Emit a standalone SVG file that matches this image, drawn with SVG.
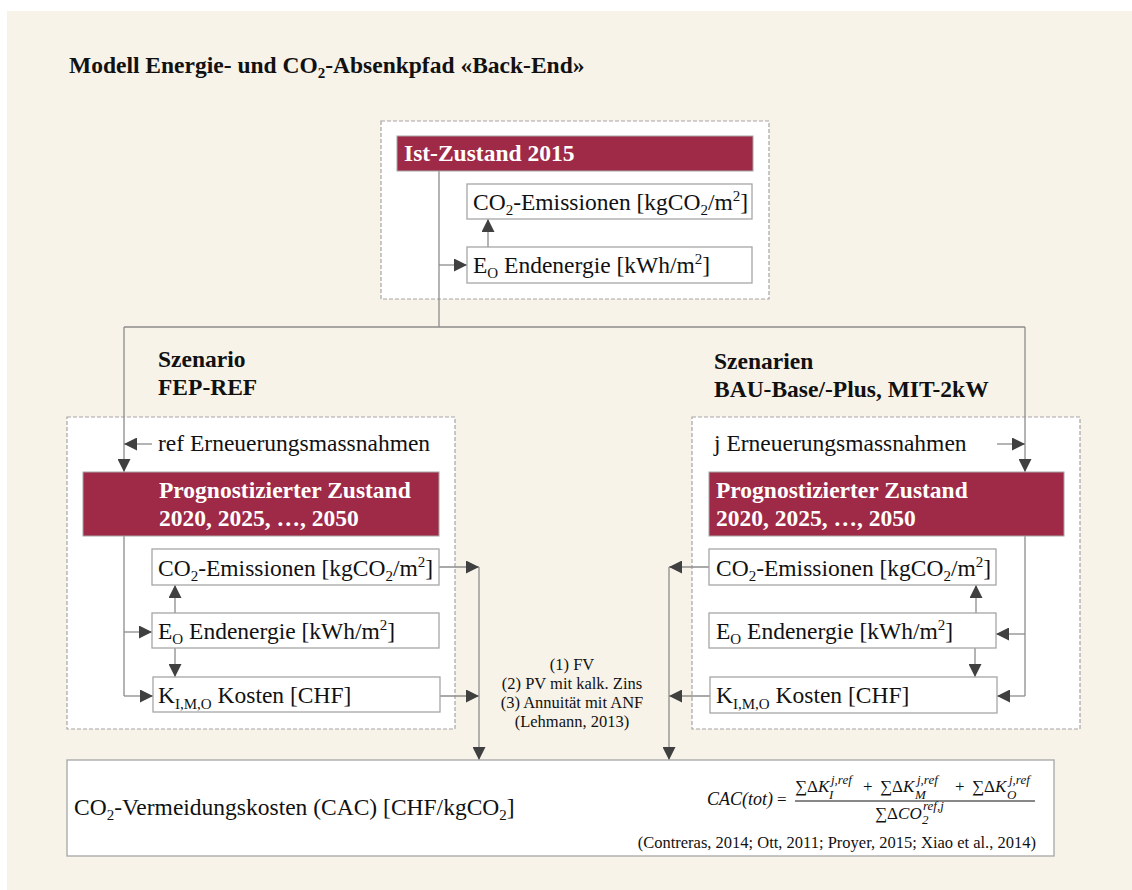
<svg xmlns="http://www.w3.org/2000/svg" width="1132" height="890" viewBox="0 0 1132 890">
<style>
text{font-family:"Liberation Serif","Times New Roman",serif;fill:#111}
.t{font-size:23.5px}
.b{font-size:23.5px;font-weight:bold}
.w{font-size:23.5px;font-weight:bold;fill:#fff}
.s{font-size:15px}
.m{font-size:16.5px}
.c{font-size:16.5px}
.f{font-size:18px;font-style:italic}
.fn{font-size:17px}
.fi{font-style:italic}
.fs{font-size:13px;font-style:italic}
.box{fill:#fff;stroke:#a6a6a6;stroke-width:1.3}
.dash{fill:#fff;stroke:#a6a6a6;stroke-width:1.2;stroke-dasharray:4 2}
.hdr{fill:#9e2a47;stroke:#a6a6a6;stroke-width:1}
.ln{fill:none;stroke:#8c8c8c;stroke-width:1.3}
.ar{fill:none;stroke:#8c8c8c;stroke-width:1.3;marker-end:url(#ah)}
</style>
<defs>
<marker id="ah" markerUnits="userSpaceOnUse" markerWidth="13" markerHeight="13" refX="13" refY="6.5" orient="auto">
<path d="M0,0 L13,6.5 L0,13 z" fill="#404040"/>
</marker>
</defs>
<rect x="0" y="0" width="1132" height="890" fill="#fff"/>
<rect x="7" y="11" width="1125" height="879" fill="#f8f3e8"/>
<text x="69" y="73" style="font-size:23.5px;font-weight:bold">Modell Energie- und CO<tspan style="font-size:15px" dy="5">2</tspan><tspan dy="-5">-Absenkpfad «Back-End»</tspan></text>

<g id="frame-top"><rect class="dash" x="381" y="121" width="388" height="178"/></g>
<g id="frame-left"><rect class="dash" x="67" y="417" width="388" height="312"/></g>
<g id="frame-right"><rect class="dash" x="692" y="417" width="388" height="312"/></g>

<g id="connectors">
<polyline class="ln" points="439,171 439,327"/>
<polyline class="ln" points="124,327 1025,327"/>
<line class="ar" x1="439" y1="265" x2="467" y2="265"/>
<line class="ar" x1="488" y1="247" x2="488" y2="219"/>
<line class="ar" x1="124" y1="327" x2="124" y2="472"/>
<line class="ar" x1="152" y1="444" x2="124" y2="444"/>
<polyline class="ln" points="124,536 124,696"/>
<line class="ar" x1="124" y1="632" x2="152" y2="632"/>
<line class="ar" x1="124" y1="696" x2="153" y2="696"/>
<line class="ar" x1="175" y1="613" x2="175" y2="585"/>
<line class="ar" x1="175" y1="648" x2="175" y2="677"/>
<line class="ar" x1="439" y1="567" x2="479" y2="567"/>
<line class="ar" x1="440" y1="696" x2="479" y2="696"/>
<line class="ar" x1="479" y1="567" x2="479" y2="760"/>
<line class="ar" x1="1025" y1="327" x2="1025" y2="472"/>
<line class="ar" x1="997" y1="444" x2="1025" y2="444"/>
<polyline class="ln" points="1025,536 1025,696"/>
<line class="ar" x1="1025" y1="634" x2="996" y2="634"/>
<line class="ar" x1="1025" y1="696" x2="997" y2="696"/>
<line class="ar" x1="976" y1="613" x2="976" y2="585"/>
<line class="ar" x1="975" y1="648" x2="975" y2="677"/>
<line class="ar" x1="709" y1="567" x2="669" y2="567"/>
<line class="ar" x1="710" y1="696" x2="669" y2="696"/>
<line class="ar" x1="669" y1="567" x2="669" y2="760"/>
</g>

<g id="ist-zustand">
<rect class="hdr" x="397" y="136" width="356" height="35"/>
<text class="w" x="404" y="161">Ist-Zustand 2015</text>
</g>
<g id="top-co2">
<rect class="box" x="467" y="184" width="285" height="35"/>
<text class="t" x="473" y="210">CO<tspan class="s" dy="5">2</tspan><tspan dy="-5">-Emissionen [kgCO</tspan><tspan class="s" dy="5">2</tspan><tspan dy="-5">/m</tspan><tspan class="s" dy="-9">2</tspan><tspan dy="9">]</tspan></text>
</g>
<g id="top-eo">
<rect class="box" x="467" y="247" width="285" height="36"/>
<text class="t" x="473" y="273">E<tspan class="s" dy="5">O</tspan><tspan dy="-5"> Endenergie [kWh/m</tspan><tspan class="s" dy="-9">2</tspan><tspan dy="9">]</tspan></text>
</g>

<g id="label-left">
<text class="b" x="158" y="367">Szenario</text>
<text class="b" x="158" y="395">FEP-REF</text>
</g>
<g id="label-right">
<text class="b" x="714" y="369">Szenarien</text>
<text class="b" x="714" y="397">BAU-Base/-Plus, MIT-2kW</text>
</g>

<g id="left-massnahmen"><text class="t" x="158" y="451">ref Erneuerungsmassnahmen</text></g>
<g id="left-prog">
<rect class="hdr" x="83" y="472" width="356" height="64"/>
<text class="w" x="159" y="498">Prognostizierter Zustand</text>
<text class="w" x="159" y="526">2020, 2025, …, 2050</text>
</g>
<g id="left-co2">
<rect class="box" x="152" y="549" width="287" height="36"/>
<text class="t" x="158" y="576">CO<tspan class="s" dy="5">2</tspan><tspan dy="-5">-Emissionen [kgCO</tspan><tspan class="s" dy="5">2</tspan><tspan dy="-5">/m</tspan><tspan class="s" dy="-9">2</tspan><tspan dy="9">]</tspan></text>
</g>
<g id="left-eo">
<rect class="box" x="152" y="613" width="287" height="35"/>
<text class="t" x="158" y="639">E<tspan class="s" dy="5">O</tspan><tspan dy="-5"> Endenergie [kWh/m</tspan><tspan class="s" dy="-9">2</tspan><tspan dy="9">]</tspan></text>
</g>
<g id="left-k">
<rect class="box" x="153" y="677" width="287" height="35"/>
<text class="t" x="158" y="703">K<tspan class="s" dy="6">I,M,O</tspan><tspan dy="-6"> Kosten [CHF]</tspan></text>
</g>

<g id="right-massnahmen"><text class="t" x="714" y="451">j Erneuerungsmassnahmen</text></g>
<g id="right-prog">
<rect class="hdr" x="709" y="472" width="355" height="64"/>
<text class="w" x="716" y="498">Prognostizierter Zustand</text>
<text class="w" x="716" y="526">2020, 2025, …, 2050</text>
</g>
<g id="right-co2">
<rect class="box" x="709" y="549" width="287" height="36"/>
<text class="t" x="716" y="576">CO<tspan class="s" dy="5">2</tspan><tspan dy="-5">-Emissionen [kgCO</tspan><tspan class="s" dy="5">2</tspan><tspan dy="-5">/m</tspan><tspan class="s" dy="-9">2</tspan><tspan dy="9">]</tspan></text>
</g>
<g id="right-eo">
<rect class="box" x="709" y="613" width="287" height="35"/>
<text class="t" x="716" y="639">E<tspan class="s" dy="5">O</tspan><tspan dy="-5"> Endenergie [kWh/m</tspan><tspan class="s" dy="-9">2</tspan><tspan dy="9">]</tspan></text>
</g>
<g id="right-k">
<rect class="box" x="710" y="677" width="287" height="36"/>
<text class="t" x="716" y="703">K<tspan class="s" dy="6">I,M,O</tspan><tspan dy="-6"> Kosten [CHF]</tspan></text>
</g>

<g id="methods">
<text class="m" x="572" y="670" text-anchor="middle">(1) FV</text>
<text class="m" x="572" y="689" text-anchor="middle">(2) PV mit kalk. Zins</text>
<text class="m" x="572" y="708" text-anchor="middle">(3) Annuität mit ANF</text>
<text class="m" x="572" y="727" text-anchor="middle">(Lehmann, 2013)</text>
</g>

<g id="cac">
<rect class="box" x="67" y="760" width="987" height="96"/>
<text class="t" x="74" y="815">CO<tspan class="s" dy="5">2</tspan><tspan dy="-5">-Vermeidungskosten (CAC) [CHF/kgCO</tspan><tspan class="s" dy="5">2</tspan><tspan dy="-5">]</tspan></text>
<text class="f" x="707" y="805">CAC(tot)</text>
<text class="fn" x="777" y="805">=</text>
<text class="fn" x="795" y="792">∑Δ<tspan class="fi">K</tspan></text>
<text class="fs" x="831" y="784">j,ref</text>
<text class="fs" x="829" y="799">I</text>
<text class="fn" x="863" y="792">+</text>
<text class="fn" x="880" y="792">∑Δ<tspan class="fi">K</tspan></text>
<text class="fs" x="917" y="784">j,ref</text>
<text class="fs" x="915" y="799">M</text>
<text class="fn" x="955" y="792">+</text>
<text class="fn" x="972" y="792">∑Δ<tspan class="fi">K</tspan></text>
<text class="fs" x="1009" y="784">j,ref</text>
<text class="fs" x="1007" y="799">O</text>
<line x1="795" y1="801" x2="1035" y2="801" stroke="#111" stroke-width="1"/>
<text class="fn" x="875" y="819">∑Δ<tspan class="fi">CO</tspan></text>
<text class="fs" x="923" y="810">ref,j</text>
<text class="fs" x="922" y="824">2</text>
<text class="c" x="1036" y="848" text-anchor="end">(Contreras, 2014; Ott, 2011; Proyer, 2015; Xiao et al., 2014)</text>
</g>
</svg>
